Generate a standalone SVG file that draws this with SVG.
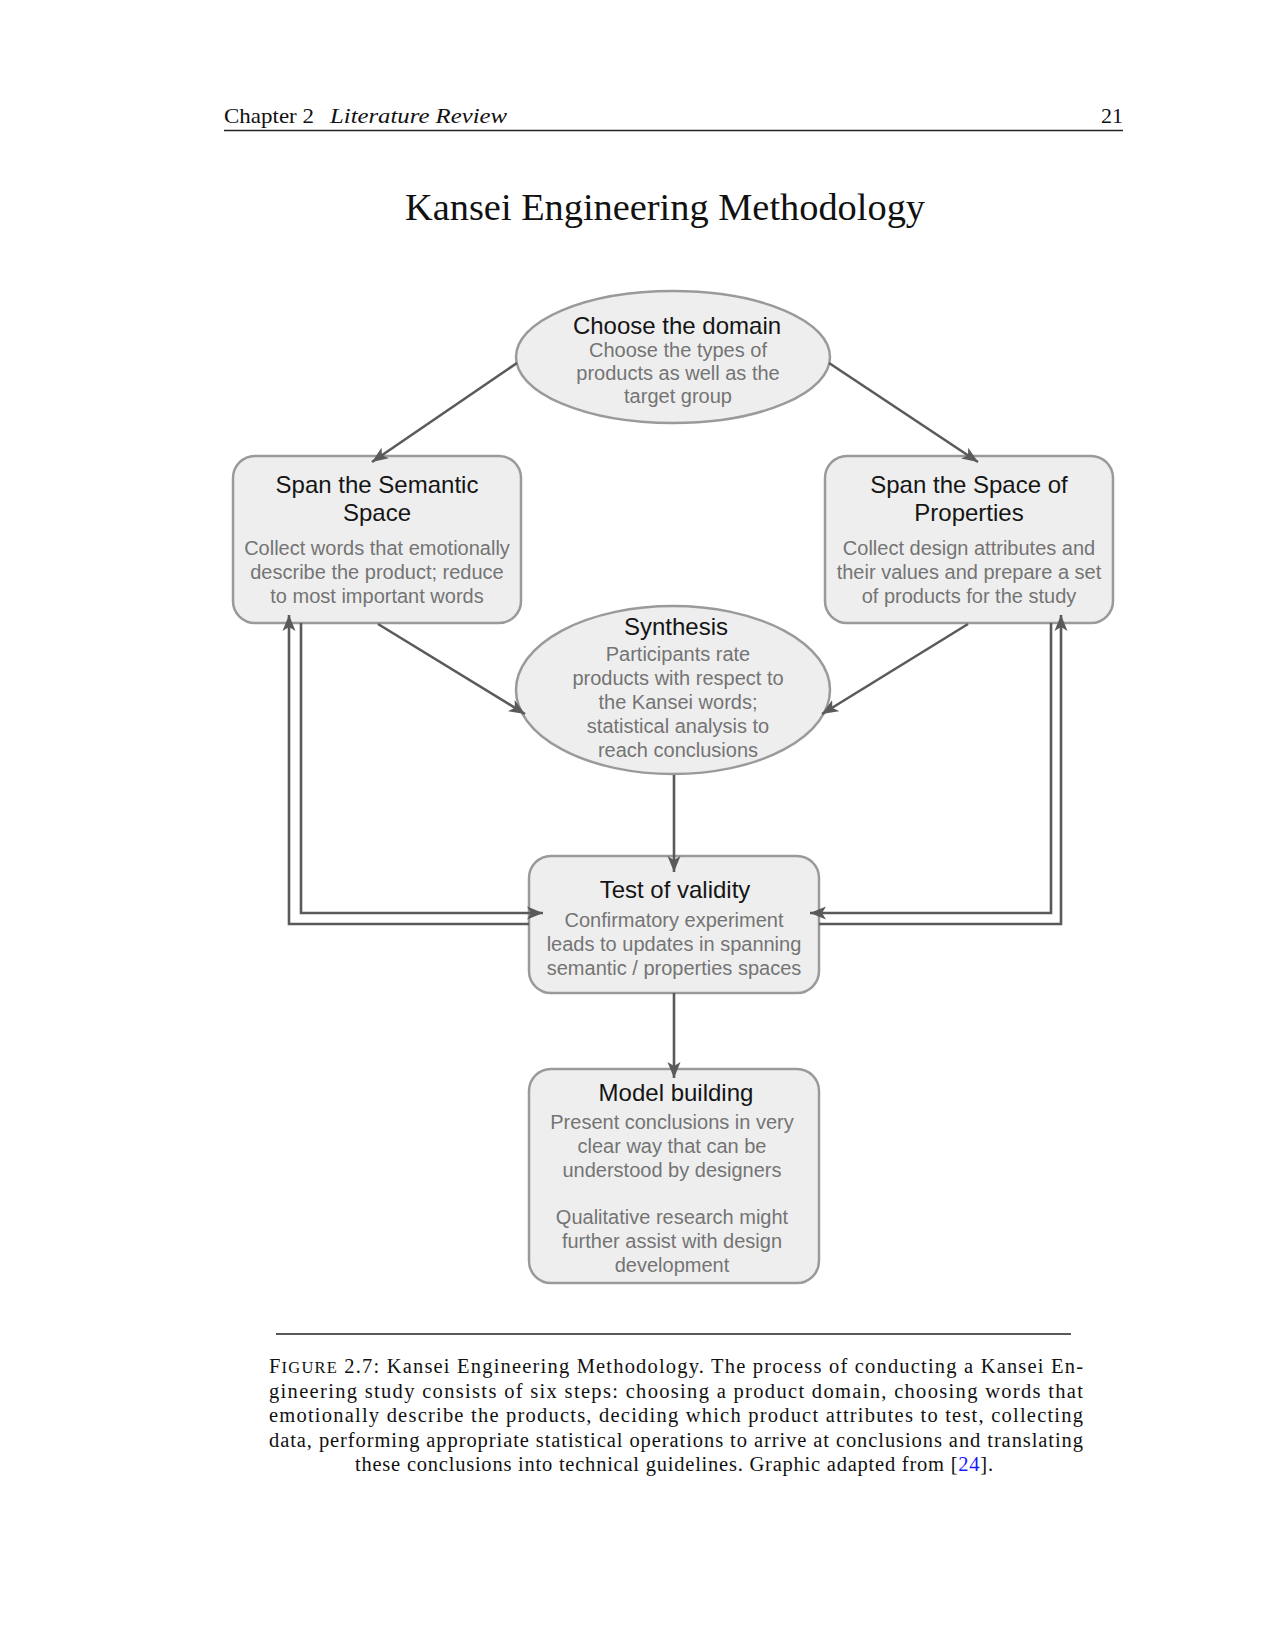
<svg xmlns="http://www.w3.org/2000/svg" width="1275" height="1650" viewBox="0 0 1275 1650">
<style>
.serif{font-family:"Liberation Serif","DejaVu Serif",serif;fill:#111}
.node{fill:#eeeeee;stroke:#9a9a9a;stroke-width:2.5}
.h{font-family:"Liberation Sans",Arial,sans-serif;font-size:24px;fill:#151515;text-anchor:middle}
.s{font-family:"Liberation Sans",Arial,sans-serif;font-size:20px;fill:#747474;text-anchor:middle}
.c{fill:none;stroke:#5a5a5a;stroke-width:2.6}
.cap{font-family:"Liberation Serif","DejaVu Serif",serif;font-size:20.5px;fill:#111}
</style>
<defs>
<marker id="arr" markerUnits="userSpaceOnUse" markerWidth="18" markerHeight="14" refX="16" refY="7" orient="auto">
<path d="M0,0.5 L16,7 L0,13.5 L4,7 z" fill="#5a5a5a"/>
</marker>
</defs>
<rect width="1275" height="1650" fill="#ffffff"/>

<g id="header">
<text class="serif" x="224" y="123" font-size="22" textLength="90" lengthAdjust="spacingAndGlyphs">Chapter 2</text>
<text class="serif" x="330" y="123" font-size="22" font-style="italic" textLength="177" lengthAdjust="spacingAndGlyphs">Literature Review</text>
<text class="serif" x="1123" y="123" font-size="22" text-anchor="end">21</text>
<line x1="224" y1="130.5" x2="1123" y2="130.5" stroke="#222" stroke-width="1.3"/>
</g>

<text id="title" class="serif" x="405" y="220" font-size="37" textLength="520" lengthAdjust="spacingAndGlyphs">Kansei Engineering Methodology</text>

<g id="choose-domain">
<ellipse class="node" cx="673" cy="357" rx="157" ry="66"/>
<text class="h" x="677" y="334">Choose the domain</text>
<text class="s" x="678" y="357">Choose the types of</text>
<text class="s" x="678" y="380">products as well as the</text>
<text class="s" x="678" y="403">target group</text>
</g>

<g id="semantic-space">
<rect class="node" x="233" y="456" width="288" height="167" rx="22"/>
<text class="h" x="377" y="493">Span the Semantic</text>
<text class="h" x="377" y="521">Space</text>
<text class="s" x="377" y="555">Collect words that emotionally</text>
<text class="s" x="377" y="579">describe the product; reduce</text>
<text class="s" x="377" y="603">to most important words</text>
</g>

<g id="space-properties">
<rect class="node" x="825" y="456" width="288" height="167" rx="22"/>
<text class="h" x="969" y="493">Span the Space of</text>
<text class="h" x="969" y="521">Properties</text>
<text class="s" x="969" y="555">Collect design attributes and</text>
<text class="s" x="969" y="579">their values and prepare a set</text>
<text class="s" x="969" y="603">of products for the study</text>
</g>

<g id="synthesis">
<ellipse class="node" cx="673" cy="690" rx="157" ry="84"/>
<text class="h" x="676" y="635">Synthesis</text>
<text class="s" x="678" y="661">Participants rate</text>
<text class="s" x="678" y="685">products with respect to</text>
<text class="s" x="678" y="709">the Kansei words;</text>
<text class="s" x="678" y="733">statistical analysis to</text>
<text class="s" x="678" y="757">reach conclusions</text>
</g>

<g id="test-validity">
<rect class="node" x="529" y="856" width="290" height="137" rx="22"/>
<text class="h" x="675" y="898">Test of validity</text>
<text class="s" x="674" y="927">Confirmatory experiment</text>
<text class="s" x="674" y="951">leads to updates in spanning</text>
<text class="s" x="674" y="975">semantic / properties spaces</text>
</g>

<g id="model-building">
<rect class="node" x="529" y="1069" width="290" height="214" rx="22"/>
<text class="h" x="676" y="1101">Model building</text>
<text class="s" x="672" y="1129">Present conclusions in very</text>
<text class="s" x="672" y="1153">clear way that can be</text>
<text class="s" x="672" y="1177">understood by designers</text>
<text class="s" x="672" y="1224">Qualitative research might</text>
<text class="s" x="672" y="1248">further assist with design</text>
<text class="s" x="672" y="1272">development</text>
</g>

<g id="connectors">
<line class="c" x1="517" y1="363" x2="372" y2="462" marker-end="url(#arr)"/>
<line class="c" x1="829" y1="363" x2="978" y2="462" marker-end="url(#arr)"/>
<line class="c" x1="378" y1="624" x2="525" y2="714" marker-end="url(#arr)"/>
<line class="c" x1="968" y1="624" x2="822" y2="714" marker-end="url(#arr)"/>
<line class="c" x1="674" y1="775" x2="674" y2="872" marker-end="url(#arr)"/>
<line class="c" x1="674" y1="993" x2="674" y2="1078" marker-end="url(#arr)"/>
<polyline class="c" points="529,924 289,924 289,615" marker-end="url(#arr)"/>
<polyline class="c" points="301,623 301,913 543,913" marker-end="url(#arr)"/>
<polyline class="c" points="1051,623 1051,913 810,913" marker-end="url(#arr)"/>
<polyline class="c" points="819,924 1061,924 1061,615" marker-end="url(#arr)"/>
</g>

<g id="caption">
<line x1="276" y1="1334" x2="1071" y2="1334" stroke="#222" stroke-width="1.3"/>
<text class="cap" x="269" y="1373" textLength="814" lengthAdjust="spacing">F<tspan font-size="16.5">IGURE</tspan> 2.7:  Kansei Engineering Methodology.  The process of conducting a Kansei En-</text>
<text class="cap" x="269" y="1397.5" textLength="814" lengthAdjust="spacing">gineering study consists of six steps:  choosing a product domain, choosing words that</text>
<text class="cap" x="269" y="1422" textLength="814" lengthAdjust="spacing">emotionally describe the products, deciding which product attributes to test, collecting</text>
<text class="cap" x="269" y="1446.5" textLength="814" lengthAdjust="spacing">data, performing appropriate statistical operations to arrive at conclusions and translating</text>
<text class="cap" x="355" y="1471" textLength="638" lengthAdjust="spacing">these conclusions into technical guidelines.  Graphic adapted from [<tspan fill="#1a1aff">24</tspan>].</text>
</g>
</svg>
